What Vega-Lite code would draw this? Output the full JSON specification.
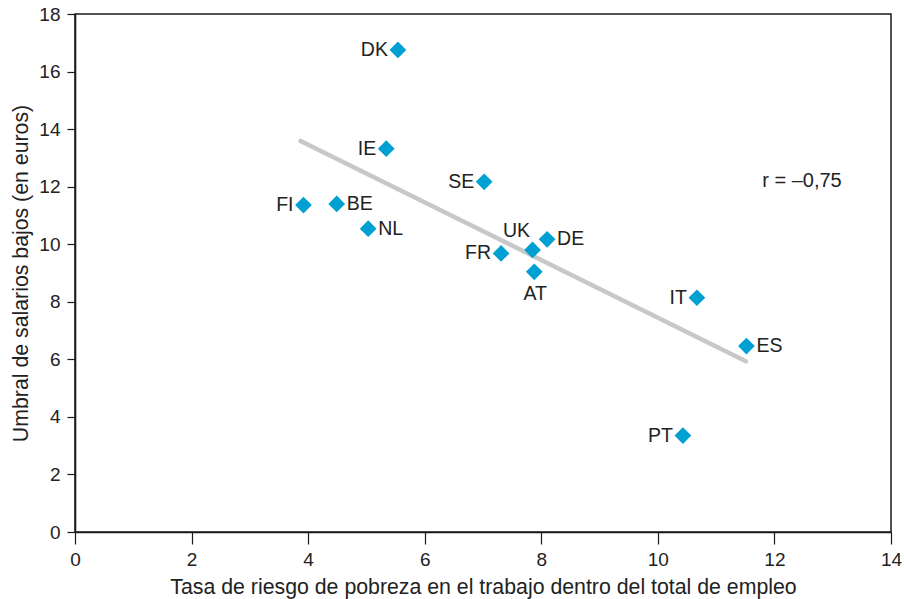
{
  "$schema": "https://vega.github.io/schema/vega-lite/v6.json",
  "width": 816,
  "height": 518,
  "autosize": {"type": "none"},
  "padding": {"left": 75, "top": 14, "right": 13, "bottom": 67},
  "background": "white",
  "config": {
    "font": "Liberation Sans",
    "view": {"stroke": "#1a1a1a", "strokeWidth": 1.5},
    "axis": {
      "grid": false,
      "domainColor": "#1a1a1a",
      "domainWidth": 1.6,
      "tickColor": "#1a1a1a",
      "tickWidth": 1.2,
      "labelFont": "Liberation Sans",
      "labelFontSize": 19,
      "labelColor": "#222222",
      "titleFont": "Liberation Sans",
      "titleFontSize": 21.3,
      "titleFontWeight": "normal",
      "titleColor": "#222222",
      "format": "d"
    },
    "text": {"font": "Liberation Sans", "fontSize": 19.5, "color": "#222222"}
  },
  "datasets": {
    "paises": [
      {"pais": "DK", "riesgo": 5.54, "umbral": 16.75},
      {"pais": "IE", "riesgo": 5.34, "umbral": 13.32},
      {"pais": "SE", "riesgo": 7.02, "umbral": 12.17},
      {"pais": "FI", "riesgo": 3.92, "umbral": 11.36},
      {"pais": "BE", "riesgo": 4.49, "umbral": 11.40},
      {"pais": "NL", "riesgo": 5.03, "umbral": 10.54},
      {"pais": "UK", "riesgo": 7.85, "umbral": 9.80},
      {"pais": "DE", "riesgo": 8.10, "umbral": 10.17},
      {"pais": "FR", "riesgo": 7.31, "umbral": 9.68},
      {"pais": "AT", "riesgo": 7.88, "umbral": 9.04},
      {"pais": "IT", "riesgo": 10.67, "umbral": 8.14},
      {"pais": "ES", "riesgo": 11.52, "umbral": 6.46},
      {"pais": "PT", "riesgo": 10.43, "umbral": 3.35}
    ],
    "tendencia": [
      {"riesgo": 3.87, "umbral": 13.59},
      {"riesgo": 11.51, "umbral": 5.93}
    ],
    "nota": [
      {"riesgo": 11.79, "umbral": 12.2, "texto": "r = –0,75"}
    ]
  },
  "layer": [
    {
      "data": {"name": "tendencia"},
      "mark": {"type": "line", "color": "#c8c8c8", "strokeWidth": 4.5, "strokeCap": "round"},
      "encoding": {
        "x": {
          "field": "riesgo",
          "type": "quantitative",
          "scale": {"domain": [0, 14], "nice": false},
          "axis": {
            "values": [0, 2, 4, 6, 8, 10, 12, 14],
            "labelFlush": false,
            "tickSize": 12,
            "labelPadding": 6,
            "title": "Tasa de riesgo de pobreza en el trabajo dentro del total de empleo",
            "titlePadding": 7
          }
        },
        "y": {
          "field": "umbral",
          "type": "quantitative",
          "scale": {"domain": [0, 18], "nice": false},
          "axis": {
            "values": [0, 2, 4, 6, 8, 10, 12, 14, 16, 18],
            "labelFlush": false,
            "tickSize": 8,
            "labelPadding": 7,
            "title": "Umbral de salarios bajos (en euros)",
            "titlePadding": 7
          }
        }
      }
    },
    {
      "data": {"name": "paises"},
      "mark": {"type": "point", "shape": "diamond", "filled": true, "color": "#00a0d2", "opacity": 1, "size": 280},
      "encoding": {
        "x": {"field": "riesgo", "type": "quantitative"},
        "y": {"field": "umbral", "type": "quantitative"}
      }
    },
    {
      "data": {"name": "paises"},
      "transform": [{"filter": "indexof(['DK','IE','SE','FI','FR','IT','PT'], datum.pais) >= 0"}],
      "mark": {"type": "text", "align": "right", "baseline": "middle", "dx": -10},
      "encoding": {
        "x": {"field": "riesgo", "type": "quantitative"},
        "y": {"field": "umbral", "type": "quantitative"},
        "text": {"field": "pais"}
      }
    },
    {
      "data": {"name": "paises"},
      "transform": [{"filter": "indexof(['BE','NL','DE','ES'], datum.pais) >= 0"}],
      "mark": {"type": "text", "align": "left", "baseline": "middle", "dx": 10},
      "encoding": {
        "x": {"field": "riesgo", "type": "quantitative"},
        "y": {"field": "umbral", "type": "quantitative"},
        "text": {"field": "pais"}
      }
    },
    {
      "data": {"name": "paises"},
      "transform": [{"filter": "datum.pais === 'UK'"}],
      "mark": {"type": "text", "align": "center", "baseline": "middle", "dx": -16, "dy": -19},
      "encoding": {
        "x": {"field": "riesgo", "type": "quantitative"},
        "y": {"field": "umbral", "type": "quantitative"},
        "text": {"field": "pais"}
      }
    },
    {
      "data": {"name": "paises"},
      "transform": [{"filter": "datum.pais === 'AT'"}],
      "mark": {"type": "text", "align": "center", "baseline": "middle", "dx": 1, "dy": 22},
      "encoding": {
        "x": {"field": "riesgo", "type": "quantitative"},
        "y": {"field": "umbral", "type": "quantitative"},
        "text": {"field": "pais"}
      }
    },
    {
      "data": {"name": "nota"},
      "mark": {"type": "text", "align": "left", "baseline": "middle", "fontSize": 20},
      "encoding": {
        "x": {"field": "riesgo", "type": "quantitative"},
        "y": {"field": "umbral", "type": "quantitative"},
        "text": {"field": "texto"}
      }
    }
  ]
}
